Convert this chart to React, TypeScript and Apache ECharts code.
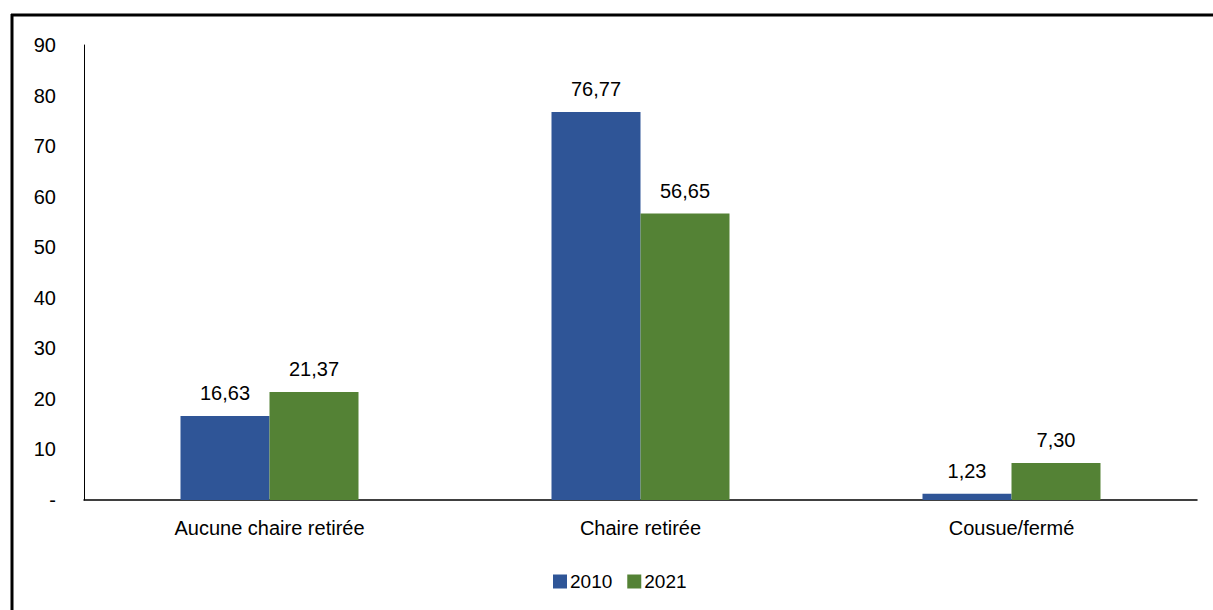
import React, { useEffect, useRef } from "react";
import * as echarts from "echarts";

const categories = ["Aucune chaire retirée", "Chaire retirée", "Cousue/fermé"];
const seriesNames = ["2010", "2021"];
const values2010 = [16.63, 76.77, 1.23];
const values2021 = [21.37, 56.65, 7.3];
const colors = ["#2F5597", "#548235"];

const fmt = (v: number) => v.toFixed(2).replace(".", ",");

export default function App() {
  const ref = useRef<HTMLDivElement>(null);
  useEffect(() => {
    if (!ref.current) return;
    const chart = echarts.init(ref.current, undefined, { renderer: "svg" });
    const font = "'Liberation Sans', Arial, sans-serif";
    const mkSeries = (name: string, data: number[], color: string) => ({
      name,
      type: "bar",
      data,
      barWidth: 89,
      barGap: "0%",
      itemStyle: { color },
      label: {
        show: true,
        position: "top",
        distance: 13,
        color: "#000",
        fontSize: 20,
        fontFamily: font,
        formatter: (p: any) => fmt(p.value),
      },
    });
    chart.setOption({
      animation: false,
      backgroundColor: "#fff",
      textStyle: { fontFamily: font },
      grid: { left: 84, right: 16, top: 45, bottom: 110, containLabel: false },
      legend: {
        bottom: 14,
        left: 548,
        itemWidth: 14,
        itemHeight: 14,
        itemGap: 15,
        icon: "rect",
        textStyle: { fontSize: 19, color: "#000", fontFamily: font, padding: [0, 0, 0, -2] },
        data: seriesNames,
      },
      xAxis: {
        type: "category",
        data: categories,
        axisLine: { show: true, lineStyle: { color: "#000", width: 1.5 } },
        axisTick: { show: false },
        axisLabel: { color: "#000", fontSize: 20, fontFamily: font, margin: 18 },
        splitLine: { show: false },
      },
      yAxis: {
        type: "value",
        min: 0,
        max: 90,
        interval: 10,
        axisLine: { show: true, lineStyle: { color: "#000", width: 1 } },
        axisTick: { show: false },
        splitLine: { show: false },
        axisLabel: {
          color: "#000",
          fontSize: 20,
          fontFamily: font,
          margin: 28,
          formatter: (v: number) => (v === 0 ? "-" : String(v)),
        },
      },
      graphic: [
        { type: "line", shape: { x1: 11, y1: 15, x2: 1213, y2: 15 }, style: { stroke: "#000", lineWidth: 3 } },
        { type: "line", shape: { x1: 12, y1: 14, x2: 12, y2: 610 }, style: { stroke: "#000", lineWidth: 3 } },
      ],
      series: [
        mkSeries(seriesNames[0], values2010, colors[0]),
        mkSeries(seriesNames[1], values2021, colors[1]),
      ],
    });
    return () => chart.dispose();
  }, []);
  return (
    <div
      ref={ref}
      style={{ position: "fixed", left: 0, top: 0, width: 1213, height: 610 }}
    />
  );
}
